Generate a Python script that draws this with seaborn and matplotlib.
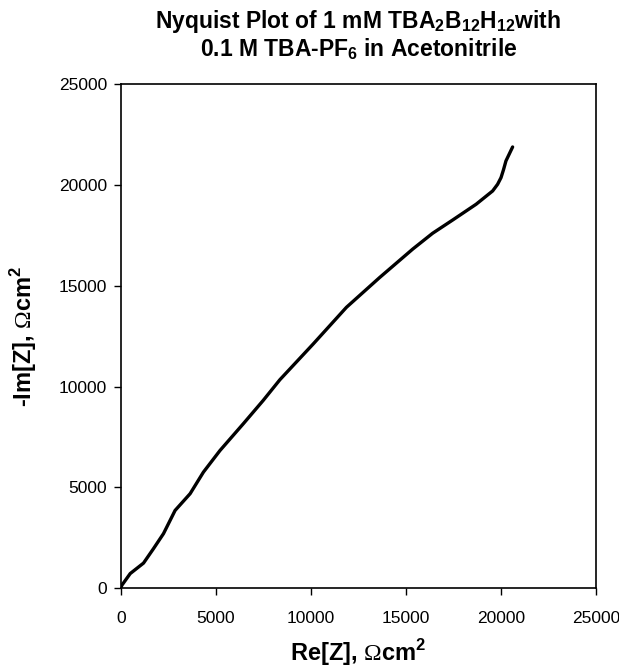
import matplotlib
matplotlib.use("Agg")
import matplotlib.pyplot as plt
import seaborn as sns
import pandas as pd

# Nyquist data (Re[Z], -Im[Z] in ohm cm^2)
re_z = [0, 60, 500, 1200, 1720, 2250, 2860, 3650, 4350, 5220, 6440, 7490,
        8370, 10120, 11870, 13620, 15360, 16400, 17460, 18690, 19560,
        19820, 20000, 20130, 20260, 20610]
im_z = [0, 150, 730, 1250, 1960, 2710, 3860, 4690, 5760, 6830, 8150, 9310,
        10340, 12110, 13930, 15410, 16820, 17600, 18260, 19040, 19700,
        20030, 20360, 20750, 21190, 21880]

ticks = [0, 5000, 10000, 15000, 20000, 25000]

sns.set_style("white")
plt.rcParams["font.family"] = ["Liberation Sans", "DejaVu Sans"]
plt.rcParams["mathtext.fontset"] = "custom"
plt.rcParams["mathtext.rm"] = "Liberation Serif"
plt.rcParams["mathtext.bf"] = "Liberation Sans:bold"
plt.rcParams["text.color"] = "black"
plt.rcParams["axes.labelcolor"] = "black"
plt.rcParams["xtick.color"] = "black"
plt.rcParams["ytick.color"] = "black"

df = pd.DataFrame({"re": re_z, "im": im_z})

fig = plt.figure(figsize=(6.19, 6.67), dpi=100)
ax = fig.add_axes([0.195, 0.118, 0.768, 0.756])

sns.lineplot(data=df, x="re", y="im", sort=False, estimator=None,
             color="black", linewidth=2.4, ax=ax)
ax.lines[0].set_solid_joinstyle("round")

ax.set_xlim(0, 25000)
ax.set_ylim(0, 25000)
ax.set_xticks(ticks)
ax.set_yticks(ticks)
ax.tick_params(axis="both", which="major", direction="out", length=4.7,
               width=1, color="black", labelsize=12.5, left=True, bottom=True)
ax.tick_params(axis="x", pad=12)
ax.tick_params(axis="y", pad=5)
for s in ax.spines.values():
    s.set_color("black")
    s.set_linewidth(1.2)

ax.set_xlabel(r"Re[Z], $\mathrm{\Omega}$cm$^{\mathbf{2}}$", fontsize=17,
              fontweight="bold", labelpad=8)
ax.set_ylabel(r"-Im[Z], $\mathrm{\Omega}$cm$^{\mathbf{2}}$", fontsize=17,
              fontweight="bold", labelpad=14)
ax.set_title("Nyquist Plot of 1 mM TBA$_{\\mathbf{2}}$B$_{\\mathbf{12}}$H$_{\\mathbf{12}}$with\n"
             "0.1 M TBA-PF$_{\\mathbf{6}}$ in Acetonitrile",
             fontsize=16.5, fontweight="bold", pad=20, linespacing=1.05)

fig.savefig("out.png", dpi=100)
